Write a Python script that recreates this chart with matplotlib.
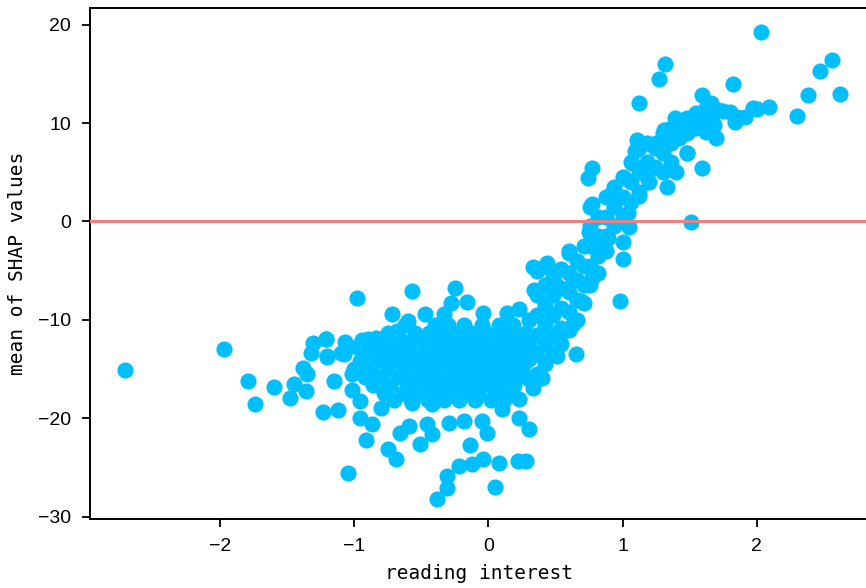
import numpy as np
import matplotlib.pyplot as plt

# reading interest (x) vs mean SHAP value (y), grouped by region of the cloud
left_tail = [(-2.71, -15.1), (-1.97, -13.0), (-1.79, -16.2), (-1.74, -18.6), (-1.60, -16.8),
             (-1.48, -17.9), (-1.45, -16.5), (-1.38, -14.9), (-1.35, -15.5), (-1.36, -17.2),
             (-1.31, -12.4), (-1.32, -13.4), (-1.21, -12.0), (-1.20, -13.8), (-1.07, -12.3),
             (-1.10, -13.4), (-1.15, -16.2), (-1.23, -19.4), (-1.12, -19.2), (-1.02, -15.5),
             (-1.02, -17.1), (-0.98, -7.8), (-1.05, -25.6), (-1.21, -11.9), (-1.20, -13.7)]

low_scatter = [(-0.96, -18.3), (-0.96, -20.0), (-0.87, -20.6), (-0.91, -22.2), (-0.75, -23.1),
               (-0.69, -24.2), (-0.66, -21.5), (-0.59, -20.8), (-0.46, -20.6), (-0.42, -21.6),
               (-0.51, -22.6), (-0.80, -19.0), (-0.57, -18.5), (-0.42, -18.6), (-0.29, -20.5),
               (-0.18, -20.3), (-0.14, -22.7), (-0.04, -24.2), (-0.12, -24.7), (-0.22, -24.9),
               (-0.31, -25.9), (-0.31, -27.1), (-0.38, -28.2), (0.05, -27.0), (0.08, -24.6),
               (0.22, -24.4), (0.28, -24.4), (0.23, -20.0), (0.30, -21.1), (-0.01, -21.5),
               (-0.05, -20.3), (0.10, -19.1), (0.23, -18.0), (0.33, -16.9), (0.40, -15.9)]

core = [(-0.62, -10.5), (-0.40, -10.5), (-0.30, -10.5), (-0.18, -10.5), (-0.05, -10.5), (0.08, -10.5), (0.18, -10.5),
        (-0.75, -11.3), (-0.55, -11.3), (-0.44, -11.3), (-0.33, -11.3), (-0.22, -11.3), (-0.12, -11.3),
        (-0.02, -11.3), (0.10, -11.3), (0.20, -11.3), (0.28, -11.3),
        (-0.90, -12.0), (-0.80, -12.0), (-0.66, -12.0), (-0.50, -12.0), (-0.38, -12.0), (-0.27, -12.0),
        (-0.16, -12.0), (-0.06, -12.0), (0.04, -12.0), (0.15, -12.0), (0.24, -12.0),
        (-0.98, -12.8), (-0.85, -12.8), (-0.72, -12.8), (-0.60, -12.8), (-0.47, -12.8), (-0.35, -12.8),
        (-0.24, -12.8), (-0.12, -12.8), (-0.02, -12.8), (0.09, -12.8), (0.19, -12.8), (0.30, -12.8),
        (-1.08, -13.5), (-0.93, -13.5), (-0.78, -13.5), (-0.64, -13.5), (-0.53, -13.5), (-0.42, -13.5),
        (-0.30, -13.5), (-0.20, -13.5), (-0.09, -13.5), (0.02, -13.5), (0.13, -13.5), (0.24, -13.5),
        (-0.96, -14.2), (-0.83, -14.2), (-0.70, -14.2), (-0.58, -14.2), (-0.46, -14.2), (-0.36, -14.2),
        (-0.25, -14.2), (-0.14, -14.2), (-0.03, -14.2), (0.07, -14.2), (0.18, -14.2), (0.28, -14.2),
        (-1.00, -15.0), (-0.88, -15.0), (-0.75, -15.0), (-0.62, -15.0), (-0.50, -15.0), (-0.40, -15.0),
        (-0.28, -15.0), (-0.17, -15.0), (-0.06, -15.0), (0.04, -15.0), (0.15, -15.0), (0.25, -15.0),
        (-0.92, -15.8), (-0.80, -15.8), (-0.67, -15.8), (-0.55, -15.8), (-0.44, -15.8), (-0.33, -15.8),
        (-0.21, -15.8), (-0.10, -15.8), (0.00, -15.8), (0.11, -15.8), (0.22, -15.8),
        (-0.86, -16.6), (-0.73, -16.6), (-0.60, -16.6), (-0.48, -16.6), (-0.37, -16.6), (-0.26, -16.6),
        (-0.15, -16.6), (-0.04, -16.6), (0.07, -16.6), (0.19, -16.6),
        (-0.78, -17.4), (-0.64, -17.4), (-0.52, -17.4), (-0.40, -17.4), (-0.28, -17.4), (-0.18, -17.4),
        (-0.08, -17.4), (0.05, -17.4), (0.15, -17.4),
        (-0.70, -18.2), (-0.58, -18.2), (-0.45, -18.2), (-0.33, -18.2), (-0.22, -18.2), (-0.10, -18.2),
        (0.02, -18.2), (0.12, -18.2)]

upper_core = [(-0.57, -7.1), (-0.25, -6.8), (-0.28, -8.3), (-0.16, -8.2), (-0.72, -9.4), (-0.60, -10.1),
              (-0.47, -9.4), (-0.33, -9.4), (-0.04, -9.3), (0.14, -9.3), (0.23, -8.9), (-0.94, -12.1),
              (-0.84, -11.8), (-0.68, -11.1), (-0.55, -11.6), (-0.45, -12.1)]

rise = [(0.30, -10.0), (0.30, -14.0), (0.30, -16.0),
        (0.36, -5.0), (0.36, -7.5), (0.36, -9.5), (0.36, -11.5), (0.36, -13.5), (0.36, -15.5),
        (0.42, -4.5), (0.42, -6.5), (0.42, -8.5), (0.42, -10.5), (0.42, -12.5), (0.42, -14.5),
        (0.48, -5.5), (0.48, -7.5), (0.48, -9.5), (0.48, -11.5), (0.48, -13.5),
        (0.54, -4.8), (0.54, -6.8), (0.54, -8.8), (0.54, -10.8), (0.54, -12.5),
        (0.60, -3.2), (0.60, -5.2), (0.60, -7.2), (0.60, -9.2), (0.60, -11.0),
        (0.66, -4.0), (0.66, -6.0), (0.66, -8.0), (0.66, -10.0),
        (0.71, -2.5), (0.71, -4.5), (0.71, -6.5), (0.71, -8.3),
        (0.76, 1.5), (0.76, -0.5), (0.76, -2.5), (0.76, -4.5), (0.76, -6.5),
        (0.82, 0.5), (0.82, -1.5), (0.82, -3.5), (0.82, -5.2),
        (0.88, 2.5), (0.88, 0.5), (0.88, -1.5), (0.88, -3.0),
        (0.94, 3.5), (0.94, 1.5), (0.94, -0.5),
        (1.00, 4.5), (1.00, 2.5), (1.00, 0.5),
        (1.06, 6.0), (1.06, 4.0), (1.06, 2.0),
        (1.12, 7.5), (1.12, 5.0), (1.12, 3.0),
        (1.18, 8.0), (1.18, 6.0), (1.18, 4.5),
        (1.24, 7.5), (1.24, 5.5),
        (1.30, 9.0), (1.30, 7.0), (1.30, 5.0),
        (1.36, 9.5), (1.36, 8.0), (1.36, 6.0),
        (1.42, 10.0), (1.42, 8.5),
        (1.48, 10.5), (1.48, 9.0), (1.48, 7.0),
        (1.55, 11.0), (1.55, 9.5),
        (1.62, 11.5), (1.62, 10.0),
        (1.68, 11.0), (1.68, 9.8),
        (1.75, 11.2), (1.85, 10.6),
        (0.33, -4.6), (0.44, -4.2), (0.60, -3.0), (0.79, -2.2), (0.34, -7.0), (0.50, -6.3),
        (0.63, -6.0), (0.77, -5.7), (0.98, -8.1), (0.65, -13.5), (0.51, -13.7), (0.63, -10.4),
        (0.69, -8.1), (0.53, -11.8)]

top = [(0.77, 5.4), (0.74, 4.4), (0.92, 2.9), (0.77, 1.8), (1.01, 4.4), (1.12, 2.6), (1.33, 3.5),
       (1.04, 0.9), (1.05, -0.6), (0.75, -1.1), (1.00, -2.1), (1.00, -3.8), (0.89, -1.7),
       (1.32, 16.0), (1.27, 14.5), (1.12, 12.0), (1.82, 14.0), (1.59, 12.9), (2.09, 11.6),
       (1.97, 11.5), (1.91, 10.6), (1.84, 10.1), (1.80, 11.1), (1.71, 11.3), (1.66, 12.0),
       (1.70, 8.5), (1.62, 9.1), (1.55, 10.0), (1.48, 7.0), (1.59, 5.4), (1.39, 10.5),
       (1.31, 9.3), (1.44, 9.3), (1.40, 5.0), (1.25, 8.0), (1.11, 8.3), (1.09, 7.2),
       (1.07, 5.9), (1.20, 4.0), (1.22, 5.5), (1.51, -0.1), (2.03, 19.3), (2.56, 16.4),
       (2.47, 15.3), (2.38, 12.9), (2.62, 13.0), (2.30, 10.7), (2.00, 11.4)]

pts = np.array(left_tail + low_scatter + core + upper_core + rise + top)
x = pts[:, 0]
y = pts[:, 1]

fig = plt.figure(figsize=(8.66, 5.88), dpi=100)
ax = fig.add_axes([90/866, 69/588, 778/866, 511/588])

ax.scatter(x, y, s=135, color="#00BFFF", linewidths=0, zorder=2)
ax.axhline(0, color="#F08080", lw=2.2, zorder=3)

ax.set_xlim(-2.97, 2.83)
ax.set_ylim(-30.25, 21.7)
ax.set_xticks([-2, -1, 0, 1, 2])
ax.set_yticks([-30, -20, -10, 0, 10, 20])

for s in ax.spines.values():
    s.set_linewidth(1.4)
ax.tick_params(labelsize=14, length=5.5, width=1.3, pad=8)
for lab in ax.get_xticklabels() + ax.get_yticklabels():
    lab.set_fontfamily("Liberation Sans")

ax.set_xlabel("reading interest", fontsize=14, family="DejaVu Sans Mono", labelpad=7)
ax.set_ylabel("mean of SHAP values", fontsize=14, family="DejaVu Sans Mono", labelpad=8)

fig.savefig("out.png", dpi=100)
